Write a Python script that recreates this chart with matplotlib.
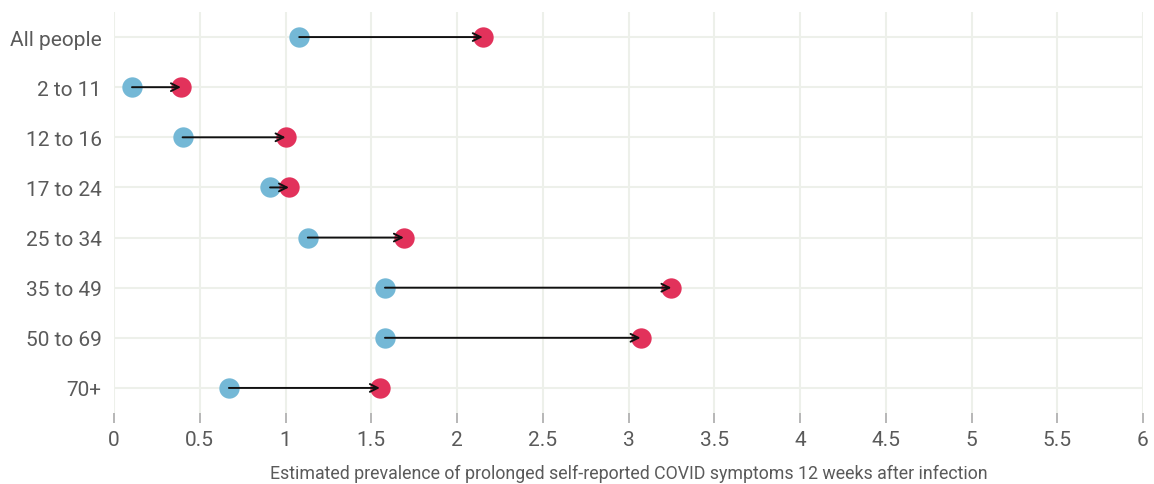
import matplotlib
matplotlib.use("Agg")
import matplotlib.pyplot as plt

categories = ["All people", "2 to 11", "12 to 16", "17 to 24", "25 to 34", "35 to 49", "50 to 69", "70+"]
start_values = [1.08, 0.105, 0.40, 0.91, 1.13, 1.58, 1.58, 0.67]
end_values = [2.15, 0.39, 1.00, 1.02, 1.69, 3.25, 3.07, 1.55]
x_ticks = [0, 0.5, 1, 1.5, 2, 2.5, 3, 3.5, 4, 4.5, 5, 5.5, 6]
x_tick_labels = ["0", "0.5", "1", "1.5", "2", "2.5", "3", "3.5", "4", "4.5", "5", "5.5", "6"]
x_title = "Estimated prevalence of prolonged self-reported COVID symptoms 12 weeks after infection"

plt.rcParams['font.family'] = ['Roboto', 'DejaVu Sans']

fig = plt.figure(figsize=(11.54, 4.85), dpi=100)
ax = fig.add_axes([114/1154, 1-414/485, (1143-114)/1154, (414-13)/485])

blue = "#74b8d6"
red = "#e2325b"
grid_c = "#edf0ea"
text_c = "#5a5a5a"

ys = list(range(len(categories)))
ax.scatter(start_values, ys, s=215, color=blue, zorder=3, linewidths=0)
ax.scatter(end_values, ys, s=215, color=red, zorder=3, linewidths=0)
for y, a, b in zip(ys, start_values, end_values):
    ax.annotate("", xy=(b, y), xytext=(a, y),
                arrowprops=dict(arrowstyle="->", color="#111111", lw=1.4,
                                shrinkA=0, shrinkB=0, mutation_scale=14),
                zorder=4)

ax.set_xlim(0, 6)
ax.set_ylim(len(categories) - 0.5, -0.5)
ax.set_yticks(ys)
ax.set_yticklabels(categories, fontsize=15, color=text_c)
ax.set_xticks(x_ticks)
ax.set_xticklabels(x_tick_labels, fontsize=15, color=text_c)
ax.tick_params(axis='y', length=0, pad=9)
ax.tick_params(axis='x', length=7, width=1.2, color="#aaaaaa", direction='out', pad=5)
ax.grid(True, color=grid_c, lw=1.5, zorder=0)
ax.set_axisbelow(True)
for s in ax.spines.values():
    s.set_visible(False)
ax.set_xlabel(x_title, fontsize=12.8, color=text_c, labelpad=11)

fig.savefig("out.png", dpi=100)
